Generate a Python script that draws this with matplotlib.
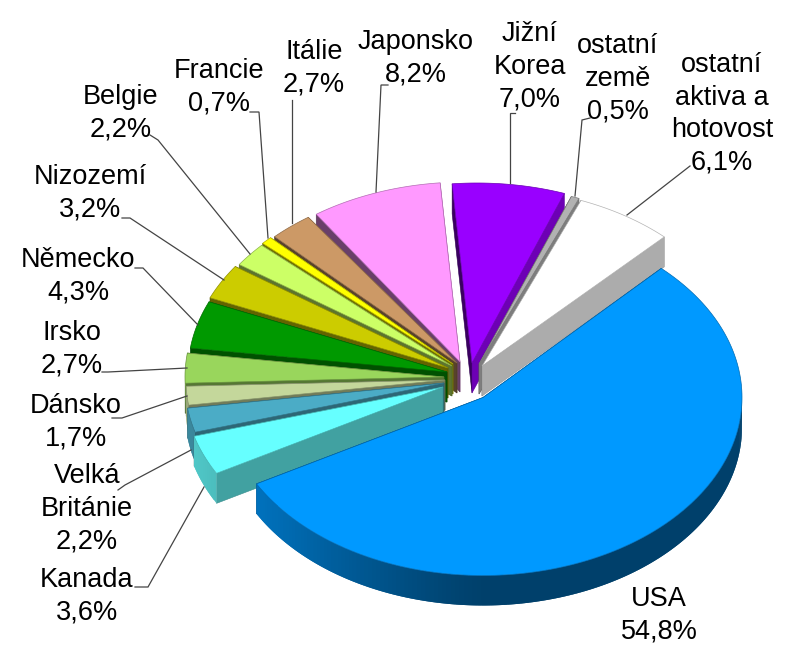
import numpy as np
import matplotlib
matplotlib.use("Agg")
import matplotlib.pyplot as plt
from matplotlib.patches import Polygon
from matplotlib.colors import to_rgb

# ---- data (clockwise from USA) ----
categories = ["USA", "Kanada", "Velká\nBritánie", "Dánsko", "Irsko", "Německo", "Nizozemí",
              "Belgie", "Francie", "Itálie", "Japonsko", "Jižní\nKorea", "ostatní\nzemě",
              "ostatní\naktiva a\nhotovost"]
shares = [54.8, 3.6, 2.2, 1.7, 2.7, 4.3, 3.2, 2.2, 0.7, 2.7, 8.2, 7.0, 0.5, 6.1]

# ---- styles / layout ----
colors = ["#0099ff", "#66ffff", "#4bacc6", "#c4d79b", "#99d65c", "#009900", "#cccc00",
          "#ccff66", "#ffff00", "#cc9966", "#ff99ff", "#9900ff", "#b2b2b2", "#ffffff"]
centers = [(483, 397.5), (443, 387), (444, 383), (445, 380), (444, 377), (447, 372), (448, 368),
           (452, 366), (453, 364), (457, 363), (465, 360), (477, 361), (484, 364), (486, 366)]
apex_shift = [(0, 0)] * 10 + [(-5, 2), (-5, 2), (-5, 0), (-4, 0)]
label_pos = [(659, 615), (87, 596), (87, 509), (76, 422), (72, 349), (78, 276), (90, 193),
             (121, 113), (219, 87), (314, 68), (416, 58), (530, 67), (618, 79), (722, 114)]
leaders = [None,
           [(204, 487), (148, 587), (135, 587)],
           [(191, 450), (125, 485), (118, 490)],
           [(187, 396), (122, 418), (112, 418)],
           [(187, 368), (108, 372), (102, 372)],
           [(198, 325), (143, 268), (135, 268)],
           [(224, 280), (130, 218), (122, 218)],
           [(250, 254), (158, 140), (150, 135)],
           [(268, 238), (259, 112), (250, 112)],
           [(292, 223), (292, 100)],
           [(376, 192), (381, 85), (388, 85)],
           [(510, 183), (510, 113), (515, 113)],
           [(575, 196), (582, 120), (590, 118)],
           [(627, 215), (690, 166)]]
draw_order = [11, 12, 13, 10, 9, 8, 7, 6, 5, 4, 3, 2, 1, 0]
RX, RY, DEPTH = 259, 178, 30
START = 46.5

plt.rcParams["font.family"] = ["Liberation Sans", "DejaVu Sans"]
fig = plt.figure(figsize=(7.96, 6.72), dpi=100)
ax = fig.add_axes([0, 0, 1, 1])
ax.set_xlim(0, 796)
ax.set_ylim(672, 0)
ax.axis("off")


def shade(c, f):
    return tuple(min(1, v * f) for v in to_rgb(c))


z = 2
edges = np.cumsum([0] + shares) / sum(shares) * 360
for i in draw_order:
    t0 = np.radians(START - edges[i])
    t1 = np.radians(START - edges[i + 1])
    cx, cy = centers[i]
    ax_, ay_ = cx + apex_shift[i][0], cy + apex_shift[i][1]
    t = np.linspace(t0, t1, max(4, int(abs(t1 - t0) * 60)))
    x = cx + RX * np.cos(t)
    y = cy - RY * np.sin(t)
    c = colors[i]
    # radial walls: upper edge first, brightness follows the direction the wall faces
    walls = sorted([(y[0], x[0], t0 + np.pi / 2), (y[-1], x[-1], t1 - np.pi / 2)])
    for ye, xe, n in walls:
        f = 0.55 + 0.17 * np.cos(n)
        ax.add_patch(Polygon([(ax_, ay_), (xe, ye), (xe, ye + DEPTH), (ax_, ay_ + DEPTH)],
                             fc=shade(c, f), ec=shade(c, f - 0.08), lw=0.4, zorder=z))
        z += 1
    # outer rim on the front half only, overlapping segments so no seams show
    for k in range(len(t) - 1):
        tm = 0.5 * (t[k] + t[k + 1])
        if np.sin(tm) > 0.05:
            continue
        f = 0.42 + 0.38 * max(0, -np.cos(tm)) ** 1.2
        col = shade(c, f)
        k2 = min(k + 2, len(t) - 1)
        ax.add_patch(Polygon([(x[k], y[k]), (x[k2], y[k2]),
                              (x[k2], y[k2] + DEPTH), (x[k], y[k] + DEPTH)],
                             fc=col, ec="none", lw=0, zorder=z))
    z += 1
    # top face
    ax.add_patch(Polygon(np.column_stack([np.r_[ax_, x], np.r_[ay_, y]]),
                         fc=c, ec=shade(c, 0.7), lw=0.5, joinstyle="miter", zorder=z))
    z += 1

for name, v, pos, ld in zip(categories, shares, label_pos, leaders):
    txt = f"{name}\n{v:.1f}%".replace(".", ",")
    ax.text(pos[0], pos[1], txt, ha="center", va="center", fontsize=19.5,
            linespacing=1.33, color="#000000", zorder=z + 2)
    if ld is not None:
        ax.plot(*zip(*ld), color="#444444", lw=0.9, zorder=z + 1, solid_joinstyle="miter")

fig.savefig("out.png", dpi=100)
